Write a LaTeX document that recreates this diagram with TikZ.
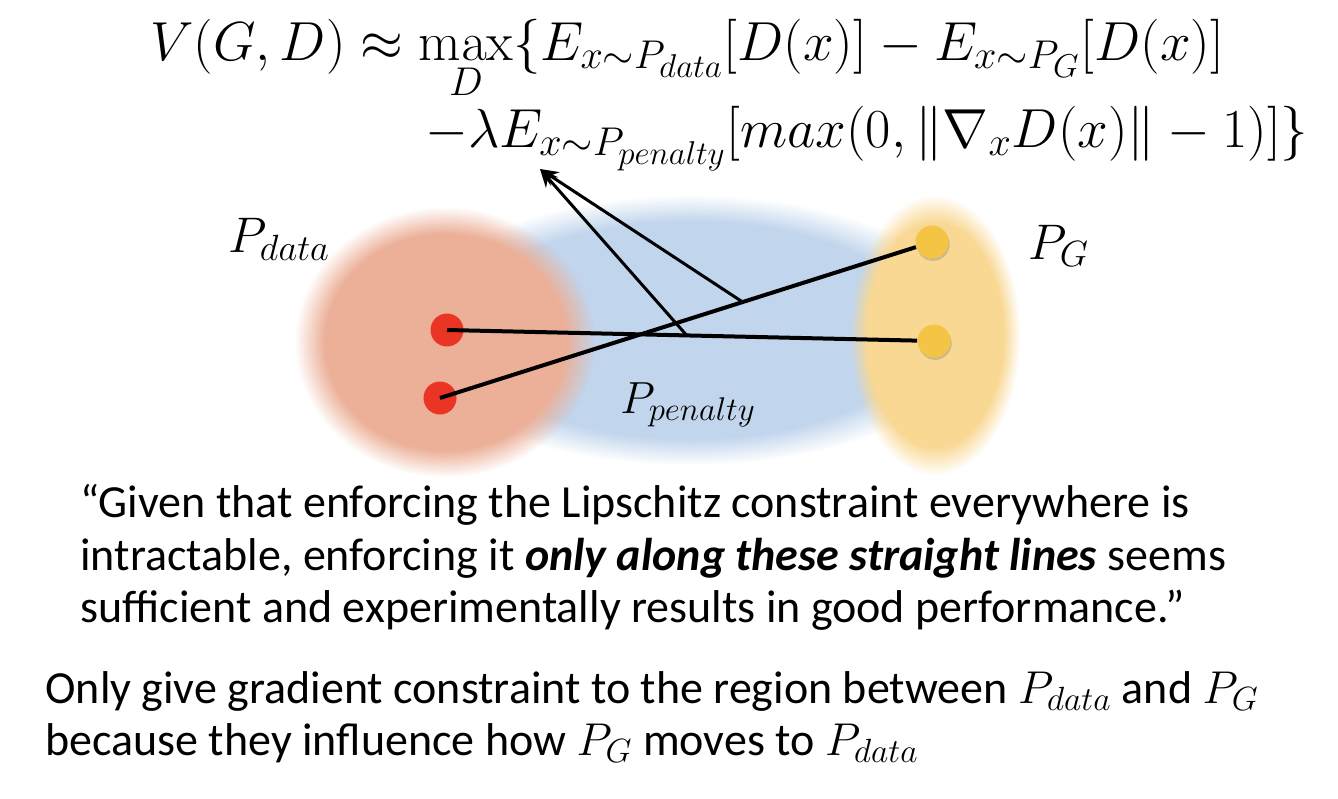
\documentclass[tikz,border=0pt]{standalone}
\usepackage{fix-cm}
\usepackage{amsmath}
\usepackage[no-math]{fontspec}
\setmainfont{Carlito}
\usetikzlibrary{arrows.meta,positioning,fadings,shadows}
\def\defaultscriptratio{.73}
\def\defaultscriptscriptratio{.6}
\definecolor{redblob}{RGB}{236,176,152}
\definecolor{blueblob}{RGB}{193,213,236}
\definecolor{yellowblob}{RGB}{249,216,148}
\definecolor{reddot}{RGB}{234,53,36}
\definecolor{yellowdot}{RGB}{244,196,68}

\begin{document}
\begin{tikzpicture}[x=0.5pt, y=-0.5pt]
\tikzset{
  blob/.style={path fading=circle with fuzzy edge 20 percent},
  dot/.style={circle, inner sep=0pt, minimum size=16.5pt},
  seg/.style={line width=2pt},
  arr/.style={-{Stealth[length=9pt, width=8pt]}, line width=1.5pt},
  txt/.style={anchor=base west, inner sep=0pt, font=\fontsize{23}{28}\selectfont},
  lbl/.style={anchor=base west, inner sep=0pt},
}
\useasboundingbox (0,0) rectangle (1338,798);
% formula
\node[lbl, font=\fontsize{27.5}{32}\selectfont] (f1) at (150,60)
  {$\displaystyle V(G,D) \approx \max_{D}\{E_{x\sim P_{data}}[D(x)] - E_{x\sim P_G}[D(x)]$};
\node[lbl, font=\fontsize{27.5}{32}\selectfont] (f2) at (425,147)
  {$\displaystyle -\lambda E_{x\sim P_{penalty}}[max(0,\|\nabla_x D(x)\| - 1)]\}$};
% distributions
\fill[blueblob, blob] (690,330) ellipse [x radius=290, y radius=135];
\fill[redblob, blob] (445,342) ellipse [x radius=150, y radius=135];
\fill[yellowblob, blob] (935,335) ellipse [x radius=85, y radius=140];
\node[lbl, font=\fontsize{25}{30}\selectfont] (pd) at (228,252) {$P_{data}$};
\node[lbl, font=\fontsize{25}{30}\selectfont] (pg) at (1028,259) {$P_G$};
\node[lbl, font=\fontsize{22.5}{27}\selectfont] (pp) at (620,413) {$P_{penalty}$};
% samples
\node[dot, fill=reddot] (r1) at (447,330) {};
\node[dot, fill=reddot] (r2) at (440,398) {};
\node[dot, fill=yellowdot, drop shadow={opacity=0.35, shadow xshift=0.6pt, shadow yshift=-1.2pt}] (y1) at (932,242) {};
\node[dot, fill=yellowdot, drop shadow={opacity=0.35, shadow xshift=0.6pt, shadow yshift=-1.2pt}] (y2) at (934,341) {};
\draw[seg] (r1.center) -- (y2) coordinate[pos=0.51] (m1);
\draw[seg] (r2.center) -- (y1) coordinate[pos=0.636] (m2);
\coordinate (tip) at (540,169);
\draw[arr] (m1) -- (tip);
\draw[arr] (m2) -- (tip);
% text
\node[txt] (q1) at (80,517) {“Given that enforcing the Lipschitz constraint everywhere is};
\node[txt] (q2) at (80,570) {intractable, enforcing it \textbf{\textit{only along these straight lines}} seems};
\node[txt] (q3) at (80,622) {sufficient and experimentally results in good performance.”};
\node[txt] (n1) at (45,703) {Only give gradient constraint to the region between $P_{data}$ and $P_G$};
\node[txt] (n2) at (45,755) {because they influence how $P_G$ moves to $P_{data}$};
\end{tikzpicture}
\end{document}
